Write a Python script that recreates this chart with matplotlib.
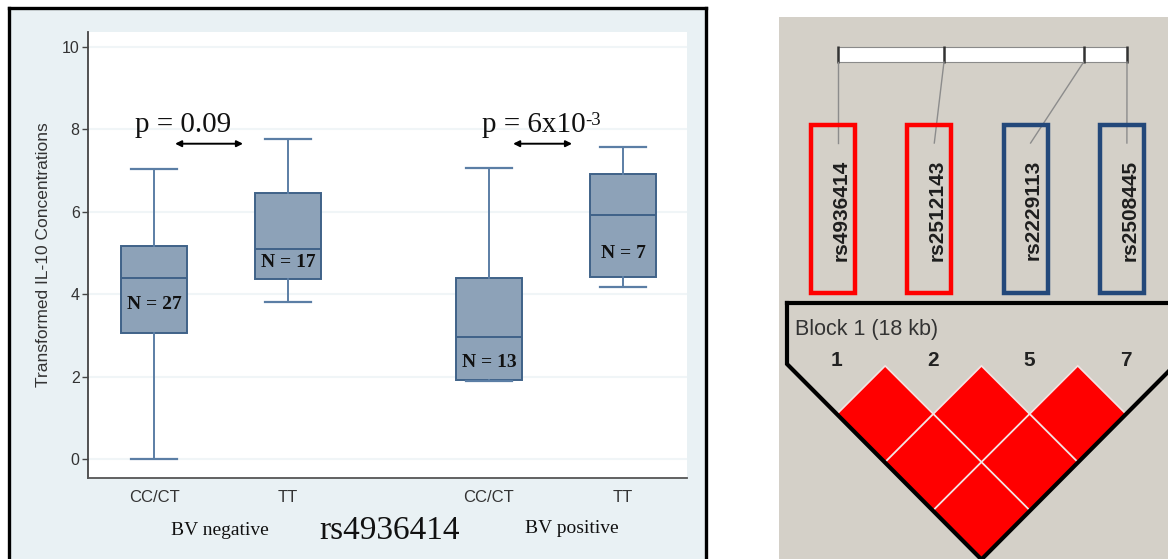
import matplotlib
matplotlib.use("Agg")
import matplotlib.pyplot as plt
from matplotlib.patches import Rectangle, Polygon

W, H = 1168, 559

# ---- left panel: IL-10 boxplots ----
groups = ['CC/CT', 'TT', 'CC/CT', 'TT']
positions = [1, 2, 3.5, 4.5]
whislo = [0.0, 3.81, 1.89, 4.17]
q1 = [3.06, 4.37, 1.92, 4.42]
med = [4.39, 5.10, 2.96, 5.92]
q3 = [5.17, 6.46, 4.39, 6.92]
whishi = [7.04, 7.77, 7.06, 7.57]
n_labels = ['N = 27', 'N = 17', 'N = 13', 'N = 7']
n_label_y = [3.76, 4.78, 2.33, 4.98]

# ---- right panel: LD block ----
snp_names = ['rs4936414', 'rs2512143', 'rs2229113', 'rs2508445']
snp_numbers = ['1', '2', '5', '7']
snp_pos_kb = [0.0, 6.6, 15.3, 18.0]
snp_box_colors = ['#ff0000', '#ff0000', '#23487a', '#23487a']
ld_pairs = [(0, 1), (1, 2), (2, 3), (0, 2), (1, 3), (0, 3)]
ld_dprime = [1.0, 1.0, 1.0, 1.0, 1.0, 1.0]


def px_rect(x0, y0, x1, y1):
    return [x0 / W, 1 - y1 / H, (x1 - x0) / W, (y1 - y0) / H]


def fx(x):
    return x / W


def fy(y):
    return 1 - y / H


fig = plt.figure(figsize=(W / 100, H / 100), dpi=100)
fig.patch.set_facecolor('white')

serif = 'Liberation Serif'
sans = 'Liberation Sans'

# framed background of the left panel
bg = fig.add_axes(px_rect(9, 8, 706, 580))
bg.set_facecolor('#e9f1f4')
bg.set_xticks([])
bg.set_yticks([])
for s in bg.spines.values():
    s.set_color('black')
    s.set_linewidth(2.4)

ax = fig.add_axes(px_rect(88, 32, 687, 478))
ax.set_facecolor('white')

stats = []
for i in range(len(groups)):
    stats.append(dict(med=med[i], q1=q1[i], q3=q3[i], whislo=whislo[i],
                      whishi=whishi[i], label=groups[i]))

ax.bxp(stats, positions=positions, widths=0.49, capwidths=0.34,
       showfliers=False, patch_artist=True,
       boxprops=dict(facecolor='#8da2b8', edgecolor='#3f6288', linewidth=1.4),
       medianprops=dict(color='#3f6288', linewidth=1.4),
       whiskerprops=dict(color='#5b7ea5', linewidth=1.4),
       capprops=dict(color='#5b7ea5', linewidth=1.6))

for x, y, t in zip(positions, n_label_y, n_labels):
    ax.text(x, y, t, ha='center', va='center', fontsize=14,
            fontweight='bold', family=serif, color='#111111')

ax.set_xlim(0.507, 4.978)
ax.set_ylim(-0.46, 10.36)
ax.set_yticks([0, 2, 4, 6, 8, 10])
ax.yaxis.grid(True, color='#f0f5f7', linewidth=1.5)
ax.set_axisbelow(True)
for s in ['top', 'right']:
    ax.spines[s].set_visible(False)
ax.spines['left'].set_color('#444444')
ax.spines['bottom'].set_color('#555555')
ax.spines['left'].set_linewidth(1.3)
ax.spines['bottom'].set_linewidth(1.3)
ax.tick_params(axis='y', length=4, width=1, color='#444444', pad=2,
               labelsize=11.5, labelcolor='#333333')
ax.tick_params(axis='x', length=0, pad=9, labelsize=12, labelcolor='#333333')
for lab in ax.get_xticklabels() + ax.get_yticklabels():
    lab.set_family(sans)
ax.set_ylabel('Transformed IL-10 Concentrations', fontsize=12.5,
              family=sans, color='#333333')
ax.yaxis.set_label_coords(-0.062, 0.5)

# p-values and arrows
ax.text(0.858, 7.94, 'p = 0.09', fontsize=21, family=serif, ha='left',
        va='baseline', color='#111111')
t2 = ax.text(3.448, 7.94, 'p = 6x10', fontsize=21, family=serif, ha='left',
             va='baseline', color='#111111')
ax.annotate('-3', xy=(1, 1), xycoords=t2, ha='left', va='top',
            fontsize=13.5, family=serif, color='#111111')
for xa, xb in [(1.157, 1.664), (3.68, 4.12)]:
    ax.annotate('', xy=(xb, 7.65), xytext=(xa, 7.65),
                arrowprops=dict(arrowstyle='<|-|>', color='black', lw=1.4,
                                mutation_scale=9, shrinkA=0, shrinkB=0))

fig.text(fx(220), fy(535), 'BV negative', fontsize=14, family=serif,
         ha='center', va='baseline', color='#111111')
fig.text(fx(572), fy(533), 'BV positive', fontsize=14, family=serif,
         ha='center', va='baseline', color='#111111')
fig.text(fx(390), fy(539), 'rs4936414', fontsize=24, family=serif,
         ha='center', va='baseline', color='#111111')

# ---- right panel ----
ax2 = fig.add_axes(px_rect(779, 17, 1168, 559))
ax2.set_facecolor('#d4d0c8')
ax2.set_xlim(779, 1168)
ax2.set_ylim(559, 17)
ax2.set_xticks([])
ax2.set_yticks([])
for s in ax2.spines.values():
    s.set_visible(False)

slot_x0, slot_dx = 837, 96.3
slot_x = [slot_x0 + i * slot_dx for i in range(len(snp_names))]
half = slot_dx / 2
row1_y = 414

# chromosome bar with SNP positions
bar_x0, bar_x1, bar_y0, bar_y1 = 838, 1127, 47, 62
kb_px = (bar_x1 - bar_x0) / snp_pos_kb[-1]
ax2.add_patch(Rectangle((bar_x0, bar_y0), bar_x1 - bar_x0, bar_y1 - bar_y0,
                        facecolor='white', edgecolor='#8a8a8a', lw=0.8))
for i, p in enumerate(snp_pos_kb):
    gx = bar_x0 + p * kb_px
    ax2.plot([gx, gx], [bar_y0 - 1, bar_y1 + 1], color='#333333', lw=1.8,
             solid_capstyle='butt')
    ax2.plot([gx, slot_x[i] + 1], [bar_y1, 143], color='#8c8c8c', lw=1.0)

for i, name in enumerate(snp_names):
    cx = slot_x[i] - 4
    ax2.add_patch(Rectangle((cx - 22, 125), 44, 168, facecolor='none',
                            edgecolor=snp_box_colors[i], lw=3.2, zorder=3))
    ax2.text(slot_x[i] + 4, 210, name, rotation=90, ha='center', va='center',
             fontsize=15, fontweight='bold', family=sans, color='#1e1e1e')

for (i, j), d in zip(ld_pairs, ld_dprime):
    cx = (slot_x[i] + slot_x[j]) / 2
    cy = row1_y + (j - i - 1) * half
    red = (1.0, 1.0 - d, 1.0 - d)
    ax2.add_patch(Polygon([(cx, cy - half), (cx + half, cy), (cx, cy + half),
                           (cx - half, cy)], closed=True, facecolor=red,
                          edgecolor='#f3e4e4', lw=1.2, zorder=2))

# LD triangle outline, drawn over the diamonds
apex_x = (slot_x[0] + slot_x[-1]) / 2
apex_y = row1_y + (len(snp_names) - 1) * half
left_x = slot_x[0] - 50
right_x = slot_x[-1] + 50
outline_x = [left_x, left_x, apex_x, right_x, right_x, left_x]
outline_y = [303, row1_y - 50, apex_y + 1, row1_y - 50, 303, 303]
ax2.plot(outline_x, outline_y, color='black', lw=3,
         solid_joinstyle='miter', zorder=4)

ax2.text(795, 335, 'Block 1 (18 kb)', fontsize=15.5, family=sans,
         ha='left', va='baseline', color='#333333')
for i, num in enumerate(snp_numbers):
    ax2.text(slot_x[i], 361, num, fontsize=15, fontweight='bold',
             family=sans, ha='center', va='center', color='#222222')

fig.savefig('out.png', dpi=100)
